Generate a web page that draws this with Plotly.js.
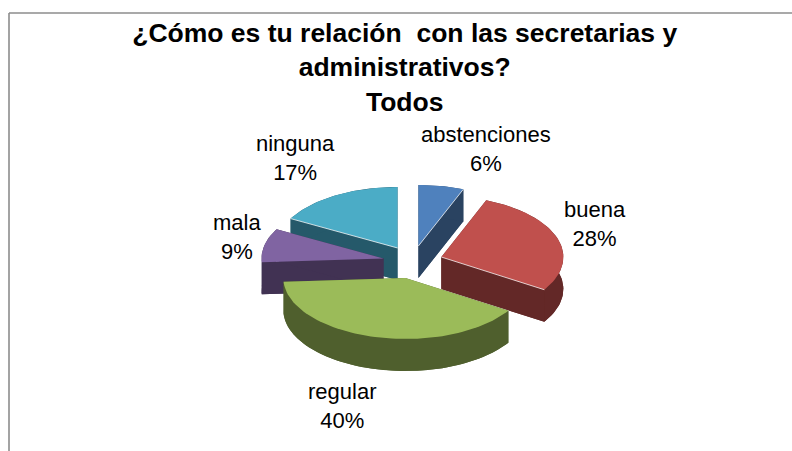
<!DOCTYPE html>
<html>
<head>
<meta charset="utf-8">
<script src="https://cdn.plot.ly/plotly-3.0.1.min.js"></script>
<style>html,body{margin:0;padding:0;background:#fff}#chart{width:792px;height:451px}</style>
</head>
<body>
<div id="chart"></div>
<script>
var categories = ['abstenciones', 'buena', 'regular', 'mala', 'ninguna'];
var percents = [6, 28, 40, 9, 17];
var topColors = ['#4F81BD', '#C0504D', '#9BBB59', '#8064A2', '#4BACC6'];
var sideColors = ['#2A4361', '#632827', '#4F5F2D', '#413253', '#25596A'];
var titleLines = ['¿Cómo es tu relación  con las secretarias y', 'administrativos?', 'Todos'];
var labelCentersX = [486, 595, 342, 237, 295];
var labelCentersY = [148.5, 223.5, 405.5, 236.5, 157.5];
var paintOrder = [0, 4, 3, 1, 2];
var litEdge = [1, 1, -1, -1, 0]; // which radial edge carries the thin light line

var O = {x: 412.8, y: 262.1}, rx = 122, ry = 61, ex = 30, ey = 16.4, depth = 32;
var rad = Math.PI / 180, total = percents.reduce(function (a, b) { return a + b; }, 0);

var traces = [];
function poly(pts, color) {
  traces.push({type: 'scatter', mode: 'lines', hoverinfo: 'skip', showlegend: false,
    x: pts.map(function (p) { return p[0]; }), y: pts.map(function (p) { return p[1]; }),
    fill: 'toself', fillcolor: color, line: {width: 0, color: color}});
}
var slices = [], acc = 0;
percents.forEach(function (v, i) {
  var a0 = acc / total * 360, a1 = (acc + v) / total * 360; acc += v;
  var mid = (a0 + a1) / 2 * rad;
  var c = {x: O.x + ex * Math.sin(mid), y: O.y - ey * Math.cos(mid)};
  var arc = [];
  for (var t = a0; t < a1; t += 2) arc.push([c.x + rx * Math.sin(t * rad), c.y - ry * Math.cos(t * rad)]);
  arc.push([c.x + rx * Math.sin(a1 * rad), c.y - ry * Math.cos(a1 * rad)]);
  slices[i] = {c: c, arc: arc};
});
function down(p) { return [p[0], p[1] + depth]; }
paintOrder.forEach(function (i) {
  var s = slices[i], apex = [s.c.x, s.c.y], a = s.arc, first = a[0], last = a[a.length - 1];
  // extruded walls
  poly([down(apex)].concat(a.map(down)).concat([down(apex)]), sideColors[i]);
  poly([apex, first, down(first), down(apex), apex], sideColors[i]);
  poly([apex, last, down(last), down(apex), apex], sideColors[i]);
  poly(a.concat(a.slice().reverse().map(down)).concat([a[0]]), sideColors[i]);
  // top face
  poly([apex].concat(a).concat([apex]), topColors[i]);
  if (litEdge[i] >= 0) {
    var e = litEdge[i] === 0 ? first : last;
    traces.push({type: 'scatter', mode: 'lines', hoverinfo: 'skip', showlegend: false,
      x: [apex[0], e[0]], y: [apex[1], e[1]], line: {width: 1, color: 'rgba(255,255,255,0.75)'}});
  }
});

var annotations = categories.map(function (c, i) {
  return {text: c + '<br>' + percents[i] + '%', x: labelCentersX[i], y: labelCentersY[i],
    xref: 'x', yref: 'y', showarrow: false, xanchor: 'center', yanchor: 'middle', align: 'center',
    font: {family: 'Liberation Sans', size: 22, color: '#000'}};
});

var layout = {
  width: 792, height: 451, margin: {l: 0, r: 0, t: 0, b: 0},
  paper_bgcolor: '#fff', plot_bgcolor: '#fff', showlegend: false,
  title: {text: titleLines.join('<br>'), x: 0.511, xanchor: 'center', y: 0.907, yanchor: 'top',
    font: {family: 'Liberation Sans', size: 26.5, color: '#000', weight: 'bold'}},
  xaxis: {range: [0, 792], visible: false, fixedrange: true},
  yaxis: {range: [451, 0], visible: false, fixedrange: true},
  annotations: annotations,
  shapes: [
    {type: 'line', xref: 'x', yref: 'y', x0: 9, x1: 792, y0: 13, y1: 13, line: {color: '#8C8C8C', width: 1.6}},
    {type: 'line', xref: 'x', yref: 'y', x0: 9, x1: 9, y0: 13, y1: 451, line: {color: '#8C8C8C', width: 1.6}}
  ]
};
Plotly.newPlot('chart', traces, layout, {displayModeBar: false, staticPlot: true});
</script>
</body>
</html>
